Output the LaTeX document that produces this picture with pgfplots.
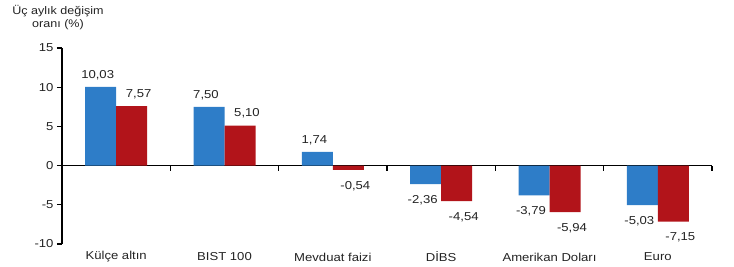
\documentclass[border=0pt]{standalone}
\usepackage{fontspec}
\setmainfont{Liberation Sans}[FakeStretch=1.14]
\usepackage{pgfplots}
\pgfplotsset{compat=1.18}
\definecolor{barblue}{RGB}{46,125,200}
\definecolor{barred}{RGB}{178,20,26}
\definecolor{txt}{RGB}{35,35,35}
\begin{document}
\begin{tikzpicture}
\path[use as bounding box] (0,0) rectangle (734pt,267pt);
\node[align=center, text=txt, font=\fontsize{11}{13}\selectfont] at (58pt,249pt) {Üç aylık değişim\\oranı (\%)};
\begin{axis}[
  at={(62pt,23pt)}, anchor=south west,
  scale only axis, width=650pt, height=196pt,
  xmin=-0.5, xmax=5.5, ymin=-10, ymax=15,
  axis y line=left, axis x line=middle,
  axis line style={-, black, line width=1.1pt},
  ytick={-10,-5,0,5,10,15},
  xtick={0.5,1.5,2.5,3.5,4.5,5.5}, xticklabels={},
  tick align=outside, major tick length=5pt,
  tick style={black, line width=1.1pt},
  yticklabel style={font=\fontsize{11.5}{13}\selectfont, text=txt},
  /pgf/number format/assume math mode=true,
  ybar=0pt, bar width=31pt,
  clip=false,
  visualization depends on={y \as \rawy},
  nodes near coords={\pgfmathprintnumber[fixed,fixed zerofill,precision=2,use comma]{\pgfplotspointmeta}},
  every node near coord/.append style={font=\fontsize{11.5}{13}\selectfont, text=txt, inner sep=0pt,
     yshift={ifthenelse(\rawy>0,7,-11)}},
]
\addplot[fill=barblue, draw=none, every node near coord/.append style={xshift=-3pt}] coordinates {
  (0,10.03) (1,7.50) (2,1.74) (3,-2.36) (4,-3.79) (5,-5.03)};
\addplot[fill=barred, draw=none, every node near coord/.append style={xshift=7pt}] coordinates {
  (0,7.57) (1,5.10) (2,-0.54) (3,-4.54) (4,-5.94) (5,-7.15)};
\foreach \i/\lab in {0/Külçe altın,1/BIST 100,2/Mevduat faizi,3/DİBS,4/Amerikan Doları,5/Euro}{
  \edef\temp{\noexpand\node[text=txt, font=\noexpand\fontsize{11.5}{13}\noexpand\selectfont, yshift=-13pt] at (axis cs:\i,-10) {\lab};}
  \temp
}
\end{axis}
\end{tikzpicture}
\end{document}
